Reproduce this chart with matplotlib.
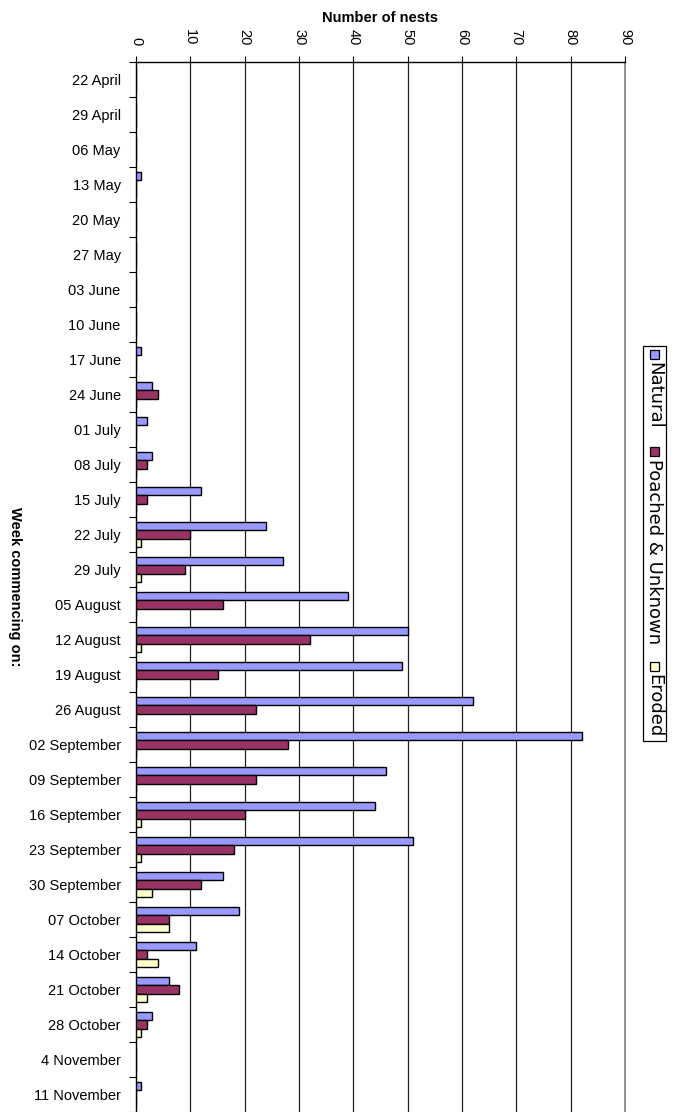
import matplotlib
matplotlib.use("Agg")
import matplotlib.pyplot as plt
from matplotlib.patches import Rectangle
import numpy as np

plt.rcParams['font.family'] = ['Liberation Sans', 'DejaVu Sans']

weeks = ["22 April", "29 April", "06 May", "13 May", "20 May", "27 May",
         "03 June", "10 June", "17 June", "24 June", "01 July", "08 July",
         "15 July", "22 July", "29 July", "05 August", "12 August",
         "19 August", "26 August", "02 September", "09 September",
         "16 September", "23 September", "30 September", "07 October",
         "14 October", "21 October", "28 October", "4 November",
         "11 November"]

natural = [0, 0, 0, 1, 0, 0, 0, 0, 1, 3, 2, 3, 12, 24, 27, 39, 50, 49, 62,
           82, 46, 44, 51, 16, 19, 11, 6, 3, 0, 1]
poached = [0, 0, 0, 0, 0, 0, 0, 0, 0, 4, 0, 2, 2, 10, 9, 16, 32, 15, 22,
           28, 22, 20, 18, 12, 6, 2, 8, 2, 0, 0]
eroded = [0, 0, 0, 0, 0, 0, 0, 0, 0, 0, 0, 0, 0, 1, 1, 0, 1, 0, 0,
          0, 0, 1, 1, 3, 6, 4, 2, 1, 0, 0]

series_names = ["Natural", "Poached & Unknown", "Eroded"]
series_colors = ["#9999FF", "#993366", "#FFFFCC"]
x_ticks = list(range(0, 100, 10))

W, H = 684, 1112
fig = plt.figure(figsize=(W / 100, H / 100), dpi=100)

left_px, right_px, top_px, bottom_px = 136, 625, 62, 1112
ax = fig.add_axes([left_px / W, 1 - bottom_px / H,
                   (right_px - left_px) / W, (bottom_px - top_px) / H])

y = np.arange(len(weeks))
bh = 0.23
for k, (vals, col) in enumerate(zip([natural, poached, eroded], series_colors)):
    ax.barh(y + (k - 1) * bh, vals, height=bh, color=col,
            edgecolor="black", linewidth=1.0, zorder=3)

ax.set_xlim(0, 90)
ax.set_ylim(len(weeks) - 0.5, -0.5)

# vertical gridlines
for v in x_ticks[1:-1]:
    ax.axvline(v, color="#222222", linewidth=0.9, zorder=1)

ax.xaxis.tick_top()
ax.xaxis.set_label_position("top")
ax.set_xticks(x_ticks)
ax.set_xticklabels([str(v) for v in x_ticks], rotation=-90, fontsize=10.5)
ax.tick_params(axis="x", direction="out", length=4, width=0.8, pad=8)
ax.set_xlabel("Number of nests", fontsize=10.5, fontweight="bold", labelpad=5)

ax.set_yticks(y)
ax.set_yticklabels(weeks, fontsize=10.5)
ax.tick_params(axis="y", which="major", length=0, pad=11)
ax.set_yticks(np.arange(len(weeks) + 1) - 0.5, minor=True)
ax.tick_params(axis="y", which="minor", direction="out", length=5, width=0.8)

for s in ["left", "top"]:
    ax.spines[s].set_color("black")
    ax.spines[s].set_linewidth(1.0)
ax.spines["right"].set_color("#808080")
ax.spines["right"].set_linewidth(1.2)
ax.spines["bottom"].set_visible(False)

fig.text(15 / W, 1 - 587 / H, "Week commencing on:", rotation=-90,
         ha="center", va="center", fontsize=10.5, fontweight="bold")

# vertical legend on the right
renderer = fig.canvas.get_renderer()
leg_font = dict(fontsize=13, family="DejaVu Sans")
xc = 654
box_top, box_bot = 346.0, 741.0
sq = 9
gap_sq = 3
pad = 4

# measure the entry texts first to spread the entries over the box
lengths = []
for name in series_names:
    t = fig.text(0, 0, name, rotation=-90, **leg_font)
    lengths.append(t.get_window_extent(renderer).height)
    t.remove()
used = 2 * pad + len(series_names) * (sq + gap_sq) + sum(lengths)
gap_item = (box_bot - box_top - used) / (len(series_names) - 1)

cur = box_top + pad
for name, col, ln in zip(series_names, series_colors, lengths):
    r = Rectangle(((xc - sq / 2) / W, 1 - (cur + sq) / H), sq / W, sq / H,
                  transform=fig.transFigure, facecolor=col,
                  edgecolor="black", linewidth=0.9)
    fig.add_artist(r)
    cur += sq + gap_sq
    fig.text(xc / W, 1 - cur / H, name, rotation=-90, ha="center",
             va="top", **leg_font)
    cur += ln + gap_item

bw = 23
box = Rectangle(((xc - bw / 2) / W, 1 - box_bot / H), bw / W,
                (box_bot - box_top) / H, transform=fig.transFigure,
                facecolor="none", edgecolor="black", linewidth=0.9)
fig.add_artist(box)

fig.savefig("out.png", dpi=100)
